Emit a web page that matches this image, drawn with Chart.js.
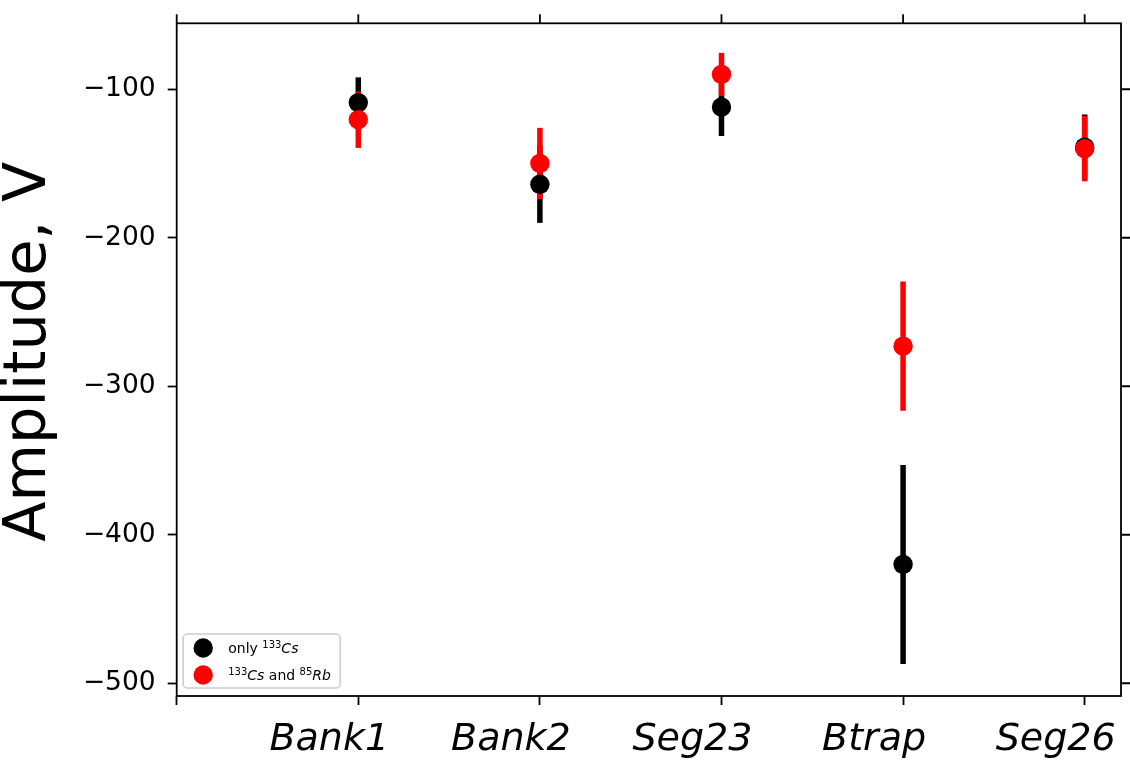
<!DOCTYPE html>
<html>
<head>
<meta charset="utf-8">
<script src="https://cdn.jsdelivr.net/npm/chart.js@4"></script>
<style>
  html, body { margin: 0; padding: 0; background: #fff; }
  canvas { display: block; }
</style>
</head>
<body>
<canvas id="chart" width="1130" height="762"></canvas>
<script>
// Electrode names along the x axis (positions 1..5)
const categories = ['Bank1', 'Bank2', 'Seg23', 'Btrap', 'Seg26'];

// Fitted amplitudes (V) and their uncertainties
const onlyCs    = [-109, -164, -112, -420, -139];
const onlyCsErr = [17, 26, 19.5, 67, 22];
const csRb      = [-120.5, -150, -90, -273, -140];
const csRbErr   = [19, 24, 14.5, 43.5, 22];

// Axis ticks
const xTickValues = [0, 1, 2, 3, 4, 5];
const yTickValues = [-500, -400, -300, -200, -100];

// Axis title
const yTitle = 'Amplitude, V';

// Legend entries as rich-text runs (n = normal, i = italic, sup = superscript)
const legendOnlyCs = [['only ', 'n'], ['133', 'sup'], ['Cs', 'i']];
const legendCsRb   = [['133', 'sup'], ['Cs', 'i'], [' and ', 'n'], ['85', 'sup'], ['Rb', 'i']];

const FONT = "'DejaVu Sans', sans-serif";
const TICK_LEN = 9;
const SPINE_W = 1.8;

function toPoints(vals, errs) {
  return vals.map((v, i) => ({ x: i + 1, y: v, err: errs[i] }));
}

const datasets = [
  { label: 'only 133Cs', data: toPoints(onlyCs, onlyCsErr), backgroundColor: '#000000',
    borderColor: '#000000', pointRadius: 9.7, pointBorderWidth: 0, order: 2, legendRuns: legendOnlyCs },
  { label: '133Cs and 85Rb', data: toPoints(csRb, csRbErr), backgroundColor: '#ff0000',
    borderColor: '#ff0000', pointRadius: 9.7, pointBorderWidth: 0, order: 1, legendRuns: legendCsRb }
];

// Vertical error bars, drawn under all markers
const errorBars = {
  id: 'errorBars',
  beforeDatasetsDraw(chart) {
    const { ctx, scales: { x, y } } = chart;
    ctx.save();
    chart.data.datasets.forEach(ds => {
      ctx.strokeStyle = ds.backgroundColor;
      ctx.lineWidth = 5.5;
      ctx.lineCap = 'butt';
      ds.data.forEach(p => {
        const px = x.getPixelForValue(p.x);
        ctx.beginPath();
        ctx.moveTo(px, y.getPixelForValue(p.y - p.err));
        ctx.lineTo(px, y.getPixelForValue(p.y + p.err));
        ctx.stroke();
      });
    });
    ctx.restore();
  }
};

// Box frame with outward ticks on the top and right edges, plus the y title
const frame = {
  id: 'frame',
  afterDatasetsDraw(chart) {
    const { ctx, chartArea: a, scales: { x, y } } = chart;
    ctx.save();
    ctx.strokeStyle = '#000';
    ctx.lineWidth = SPINE_W;
    ctx.strokeRect(a.left, a.top, a.right - a.left, a.bottom - a.top);
    ctx.beginPath();
    x.ticks.forEach(t => {
      const px = x.getPixelForValue(t.value);
      ctx.moveTo(px, a.top);
      ctx.lineTo(px, a.top - TICK_LEN);
    });
    y.ticks.forEach(t => {
      const py = y.getPixelForValue(t.value);
      ctx.moveTo(a.right, py);
      ctx.lineTo(a.right + TICK_LEN, py);
    });
    ctx.stroke();

    ctx.translate(29.5, (a.top + a.bottom) / 2 - 8);
    ctx.rotate(-Math.PI / 2);
    ctx.fillStyle = '#000';
    ctx.font = `59px ${FONT}`;
    ctx.textAlign = 'center';
    ctx.textBaseline = 'middle';
    ctx.fillText(yTitle, 0, 0);
    ctx.restore();
  }
};

// Legend box in the lower-left corner with superscript isotope labels
const richLegend = {
  id: 'richLegend',
  afterDraw(chart) {
    const { ctx, chartArea: a } = chart;
    const bx = a.left + 6.5, by = a.bottom - 62, bw = 157, bh = 54;
    ctx.save();
    ctx.beginPath();
    ctx.roundRect(bx, by, bw, bh, 4);
    ctx.fillStyle = 'rgba(255,255,255,0.8)';
    ctx.fill();
    ctx.strokeStyle = '#cccccc';
    ctx.lineWidth = 1.5;
    ctx.stroke();

    chart.data.datasets.forEach((ds, i) => {
      const cy = by + 14 + i * 27;
      ctx.beginPath();
      ctx.arc(bx + 20, cy, ds.pointRadius, 0, Math.PI * 2);
      ctx.fillStyle = ds.backgroundColor;
      ctx.fill();

      let tx = bx + 45;
      const base = cy + 4.5;
      ctx.fillStyle = '#000';
      ctx.textBaseline = 'alphabetic';
      ctx.textAlign = 'left';
      ds.legendRuns.forEach(([txt, style]) => {
        if (style === 'sup') {
          ctx.font = `10px ${FONT}`;
          ctx.fillText(txt, tx, base - 5);
        } else {
          ctx.font = `${style === 'i' ? 'italic ' : ''}14px ${FONT}`;
          ctx.fillText(txt, tx, base);
        }
        tx += ctx.measureText(txt).width;
      });
    });
    ctx.restore();
  }
};

new Chart(document.getElementById('chart'), {
  type: 'scatter',
  data: { datasets },
  plugins: [errorBars, frame, richLegend],
  options: {
    responsive: false,
    animation: false,
    layout: { autoPadding: false, padding: { top: 23.3, right: 9, left: 0, bottom: 0 } },
    plugins: { legend: { display: false }, tooltip: { enabled: false } },
    scales: {
      x: {
        type: 'linear',
        min: 0,
        max: 5.2,
        afterBuildTicks: s => { s.ticks = xTickValues.map(v => ({ value: v })); },
        afterFit: s => { s.height = 66; s.paddingLeft = 0; s.paddingRight = 0; },
        border: { display: false },
        grid: { display: true, drawOnChartArea: false, drawTicks: true, tickLength: TICK_LEN,
                tickColor: '#000', tickWidth: SPINE_W },
        ticks: {
          autoSkip: false,
          maxRotation: 0,
          padding: 12,
          labelOffset: -29,
          color: '#000',
          font: { family: FONT, size: 38, style: 'italic' },
          callback: v => (v >= 1 && v <= categories.length ? categories[v - 1] : '')
        }
      },
      y: {
        min: -508.6,
        max: -55.6,
        afterBuildTicks: s => { s.ticks = yTickValues.map(v => ({ value: v })); },
        afterFit: s => { s.width = 176.7; s.paddingTop = 0; s.paddingBottom = 0; },
        border: { display: false },
        grid: { display: true, drawOnChartArea: false, drawTicks: true, tickLength: TICK_LEN,
                tickColor: '#000', tickWidth: SPINE_W },
        ticks: {
          padding: 12,
          color: '#000',
          font: { family: FONT, size: 26.5 },
          callback: v => (v < 0 ? '\u2212' + Math.abs(v) : String(v))
        }
      }
    }
  }
});
</script>
</body>
</html>
